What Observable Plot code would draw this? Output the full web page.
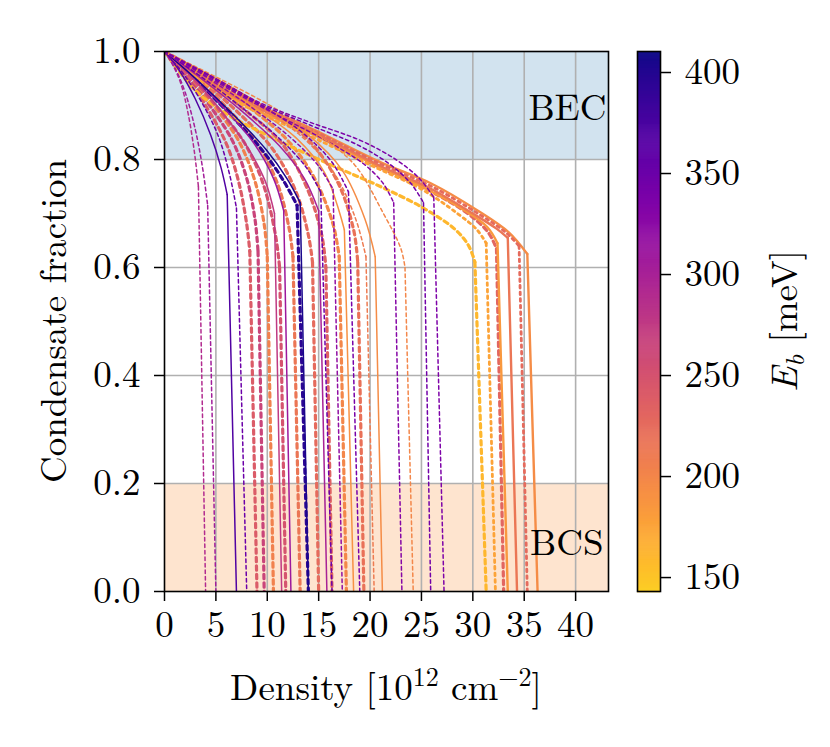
<!DOCTYPE html>
<html><head><meta charset="utf-8">
<script src="https://cdn.jsdelivr.net/npm/d3@7"></script>
<script src="https://cdn.jsdelivr.net/npm/@observablehq/plot@0.6"></script>
<style>
body{margin:0;background:#fff;}
#wrap{position:relative;width:830px;height:747px;background:#fff;}
#main{position:absolute;left:0;top:0;}
#cbar{position:absolute;left:620px;top:0;}
</style></head><body><div id="wrap"><div id="main"></div><div id="cbar"></div></div>
<script>
// ---------- data ----------
const xTicks = [0, 5, 10, 15, 20, 25, 30, 35, 40];
const yTicks = [0, 0.2, 0.4, 0.6, 0.8, 1.0];
const cbTicks = [150, 200, 250, 300, 350, 400];
const ebDomain = [143.1, 410.4];
const xDomain = [0, 43.2];
const bandBEC = [0.8, 1.0];
const bandBCS = [0.0, 0.2];
const regionNames = ["BEC", "BCS"];

// binding energy of each curve (meV)
const curveEb = [290, 305, 370, 350, 240, 265, 205, 275, 310, 215, 405, 395, 225, 300, 350, 320,
  200, 190, 340, 210, 195, 330, 200, 345, 335, 160, 175, 230, 185, 215, 225, 195,
  250, 235, 220];
// line style of each curve
const curveStyle = ["td", "td", "s", "td", "kd", "kd", "kd", "s", "s", "kd", "s", "kd", "kd", "s", "td", "td",
  "kd", "s", "td", "td", "s", "td", "td", "td", "td", "kd", "dt", "kd", "ks", "ks", "dt", "ks",
  "kd", "kd", "kd"];
// condensate part of each curve: density points
const curveArcX = [
  [0, 0.8, 1.6, 2.3, 2.9, 3.3],
  [0, 1, 2, 3, 3.7, 4.2],
  [0, 1.5, 3, 4.5, 5.5, 6.1],
  [0, 1.7, 3.5, 5.2, 6.3, 7.0],
  [0, 2, 4, 6, 7.2, 8.0, 8.3],
  [0, 2.2, 4.4, 6.6, 8.0, 8.8, 9.1],
  [0, 2.4, 4.8, 7.2, 8.8, 9.7, 10.0],
  [0, 2.7, 5.3, 8, 9.8, 10.7],
  [0, 2.9, 5.8, 8.7, 10.6, 11.6],
  [0, 3, 6, 9, 11, 12.1, 12.5],
  [0, 3.3, 6.6, 9.9, 11.9, 13.2],
  [0, 3.2, 6.4, 9.6, 11.6, 12.9],
  [0, 3.5, 7, 10.5, 12.8, 14.0, 14.4],
  [0, 3.7, 7.5, 11.2, 13.6, 15.0],
  [0, 3.8, 7.6, 11.4, 13.8, 15.2],
  [0, 4.1, 8.2, 12.3, 14.9, 16.4],
  [0, 4, 8, 12, 14.6, 16.4, 17.0],
  [0, 4.2, 8.5, 12.8, 15.6, 17.5],
  [0, 4.5, 9, 13.4, 16.3, 17.9],
  [0, 4.5, 9, 13.5, 16.5, 18.6, 19.6],
  [0, 4.7, 9.4, 14, 17.3, 19.5, 20.5],
  [0, 4, 8, 12, 16, 19.5, 21.3, 22.3],
  [0, 5, 10, 15, 18.5, 21.3, 23.0, 23.4],
  [0, 4, 9, 14, 19, 22, 24, 25.2],
  [0, 4, 9.3, 14, 19.1, 22.5, 24.8, 26.2],
  [0, 2.9, 6, 10, 16.2, 21, 25.2, 28.3, 29.6, 30.2],
  [0, 3, 8, 14, 20, 25, 28.5, 30.4, 31.3],
  [0, 3, 8, 14, 21, 26, 29.5, 31.5, 32.3],
  [0, 3, 8, 14, 20, 25, 29, 31.4, 32.4],
  [0, 3, 8, 14, 21, 26, 30, 32.3, 33.4],
  [0, 3, 8, 14, 21, 26, 30.5, 33.2, 34.5],
  [0, 3, 8, 14, 21, 26, 30.5, 33.5, 35.3],
  [0, 2.6, 5.2, 7.8, 9.6, 10.8, 11.2],
  [0, 3.8, 7.6, 11.4, 13.8, 15.3, 15.7],
  [0, 4.6, 9.2, 13.8, 16.8, 18.4, 18.8]
];
// condensate part of each curve: condensate fraction points
const curveArcY = [
  [1, 0.975, 0.94, 0.885, 0.815, 0.75],
  [1, 0.97, 0.925, 0.855, 0.785, 0.715],
  [1, 0.963, 0.912, 0.845, 0.785, 0.735],
  [1, 0.962, 0.91, 0.845, 0.775, 0.71],
  [1, 0.957, 0.9, 0.83, 0.76, 0.68, 0.63],
  [1, 0.955, 0.9, 0.835, 0.765, 0.69, 0.63],
  [1, 0.955, 0.9, 0.835, 0.76, 0.68, 0.62],
  [1, 0.952, 0.895, 0.825, 0.76, 0.70],
  [1, 0.952, 0.895, 0.83, 0.765, 0.705],
  [1, 0.952, 0.897, 0.83, 0.755, 0.675, 0.62],
  [1, 0.945, 0.885, 0.818, 0.765, 0.72],
  [1, 0.944, 0.883, 0.815, 0.76, 0.715],
  [1, 0.948, 0.89, 0.82, 0.74, 0.66, 0.61],
  [1, 0.948, 0.89, 0.825, 0.765, 0.705],
  [1, 0.95, 0.895, 0.835, 0.785, 0.74],
  [1, 0.952, 0.9, 0.84, 0.79, 0.745],
  [1, 0.952, 0.9, 0.835, 0.765, 0.68, 0.62],
  [1, 0.952, 0.9, 0.84, 0.775, 0.67],
  [1, 0.955, 0.905, 0.85, 0.795, 0.74],
  [1, 0.952, 0.9, 0.84, 0.775, 0.69, 0.62],
  [1, 0.953, 0.902, 0.845, 0.78, 0.69, 0.62],
  [1, 0.955, 0.912, 0.872, 0.832, 0.79, 0.755, 0.72],
  [1, 0.953, 0.903, 0.845, 0.79, 0.70, 0.635, 0.60],
  [1, 0.958, 0.905, 0.865, 0.825, 0.79, 0.755, 0.72],
  [1, 0.96, 0.905, 0.87, 0.835, 0.80, 0.765, 0.73],
  [1, 0.93, 0.885, 0.845, 0.79, 0.75, 0.71, 0.67, 0.64, 0.61],
  [1, 0.953, 0.897, 0.845, 0.79, 0.745, 0.70, 0.67, 0.645],
  [1, 0.958, 0.905, 0.853, 0.785, 0.74, 0.70, 0.665, 0.635],
  [1, 0.955, 0.9, 0.85, 0.795, 0.75, 0.708, 0.675, 0.645],
  [1, 0.958, 0.905, 0.855, 0.788, 0.745, 0.70, 0.672, 0.655],
  [1, 0.96, 0.91, 0.858, 0.792, 0.75, 0.70, 0.665, 0.64],
  [1, 0.96, 0.91, 0.86, 0.795, 0.755, 0.705, 0.665, 0.625],
  [1, 0.952, 0.895, 0.83, 0.755, 0.66, 0.60],
  [1, 0.95, 0.895, 0.83, 0.75, 0.66, 0.60],
  [1, 0.952, 0.9, 0.84, 0.76, 0.67, 0.61]
];
// density where the condensate fraction collapses to zero
const curveEndX = [4.0, 5.0, 7.0, 8.0, 9.0, 9.7, 10.6, 11.4, 12.3, 13.2, 14.0, 14.0, 15.0, 15.8, 16.3, 17.3,
  17.7, 18.4, 19.0, 20.4, 21.2, 23.1, 24.2, 25.9, 27.2, 31.3, 32.2, 33.0, 33.4, 34.3, 35.3, 36.3,
  11.8, 16.3, 19.4];

// ---------- build tables ----------
const arcRows = [], dropRows = [];
curveEb.forEach((eb, i) => {
  const xs = curveArcX[i], ys = curveArcY[i], st = curveStyle[i];
  xs.forEach((x, j) => arcRows.push({id: i, eb, st, x, y: ys[j]}));
  const k = xs.length - 1;
  dropRows.push({id: i, eb, st, x: xs[k], y: ys[k]});
  dropRows.push({id: i, eb, st, x: curveEndX[i], y: 0});
});

const FONT = "'Latin Modern Roman','CMU Serif','Liberation Serif',serif";
const FS = 37;
const colorOpts = {type: "linear", domain: ebDomain, interpolate: t => d3.interpolatePlasma(0.9 * (1 - t))};
const lineStyles = {
  kd: {strokeWidth: 3.2, strokeDasharray: "4.5,4"},
  ks: {strokeWidth: 2.4},
  dt: {strokeWidth: 2.8, strokeDasharray: "2.6,4"},
  s:  {strokeWidth: 1.5},
  td: {strokeWidth: 1.5, strokeDasharray: "3.5,3"}
};
const order = ["kd", "ks", "dt", "s", "td"];
const lineMarks = [];
for (const s of order) {
  lineMarks.push(Plot.line(arcRows.filter(d => d.st === s), {x: "x", y: "y", z: "id", stroke: "eb", curve: "catmull-rom", clip: true, ...lineStyles[s]}));
  lineMarks.push(Plot.line(dropRows.filter(d => d.st === s), {x: "x", y: "y", z: "id", stroke: "eb", clip: true, ...lineStyles[s]}));
}

const main = Plot.plot({
  width: 620, height: 747,
  marginLeft: 164, marginRight: 12, marginTop: 51, marginBottom: 156,
  style: {fontFamily: FONT, fontSize: FS + "px", color: "black", background: "white"},
  x: {domain: xDomain},
  y: {domain: [0, 1]},
  color: colorOpts,
  marks: [
    Plot.rect([bandBEC], {y1: d => d[0], y2: d => d[1], fill: "#d2e3ef"}),
    Plot.rect([bandBCS], {y1: d => d[0], y2: d => d[1], fill: "#fee4cf"}),
    Plot.gridX(xTicks.slice(1), {stroke: "#b0b0b0", strokeOpacity: 1, strokeWidth: 1.6}),
    Plot.gridY(yTicks.slice(1, -1), {stroke: "#b0b0b0", strokeOpacity: 1, strokeWidth: 1.6}),
    ...lineMarks,
    Plot.text([regionNames[0]], {frameAnchor: "top-right", dx: -2, dy: 57, lineAnchor: "middle", fontSize: FS, fill: "black"}),
    Plot.text([regionNames[1]], {frameAnchor: "bottom-right", dx: -5, dy: -48, lineAnchor: "middle", fontSize: FS, fill: "black"}),
    Plot.frame({stroke: "black", strokeWidth: 1.6}),
    Plot.axisX(xTicks, {tickSize: 10, tickPadding: 9, label: null, strokeWidth: 1.5}),
    Plot.axisY(yTicks, {tickSize: 10, tickPadding: 14, tickFormat: d3.format(".1f"), label: null, strokeWidth: 1.5})
  ]
});
document.getElementById("main").appendChild(main);

// axis titles
const ms = d3.select(main);
const xl = ms.append("text").attr("x", 386).attr("y", 700).attr("text-anchor", "middle")
  .attr("font-family", FONT).attr("font-size", FS).attr("fill", "black");
xl.append("tspan").text("Density [10");
xl.append("tspan").attr("dy", -14).attr("font-size", 26).text("12");
xl.append("tspan").attr("dy", 14).text(" cm");
xl.append("tspan").attr("dy", -14).attr("font-size", 26).text("\u22122");
xl.append("tspan").attr("dy", 14).text("]");
ms.append("text").attr("transform", "translate(66,321) rotate(-90)").attr("text-anchor", "middle")
  .attr("font-family", FONT).attr("font-size", FS).attr("fill", "black").text("Condensate fraction");

// colorbar
const cbSteps = d3.range(ebDomain[0], ebDomain[1] + 0.01, 0.5);
const cbar = Plot.plot({
  width: 210, height: 747,
  marginLeft: 17, marginRight: 170, marginTop: 51, marginBottom: 156,
  style: {fontFamily: FONT, fontSize: FS + "px", color: "black", background: "transparent"},
  x: {domain: [0, 1], axis: null},
  y: {domain: ebDomain},
  color: colorOpts,
  marks: [
    Plot.ruleY(cbSteps, {y: d => d, stroke: d => d, strokeWidth: 1.6}),
    Plot.frame({stroke: "black", strokeWidth: 1.6}),
    Plot.axisY(cbTicks, {anchor: "right", tickSize: 10, tickPadding: 14, label: null, strokeWidth: 1.5})
  ]
});
document.getElementById("cbar").appendChild(cbar);
const cs = d3.select(cbar);
const el = cs.append("text").attr("transform", "translate(177,321) rotate(-90)").attr("text-anchor", "middle")
  .attr("font-family", FONT).attr("font-size", FS).attr("fill", "black");
el.append("tspan").attr("font-style", "italic").text("E");
el.append("tspan").attr("font-style", "italic").attr("font-size", 26).attr("dy", 7).text("b");
el.append("tspan").attr("dy", -7).text(" [meV]");
</script>
</body></html>
